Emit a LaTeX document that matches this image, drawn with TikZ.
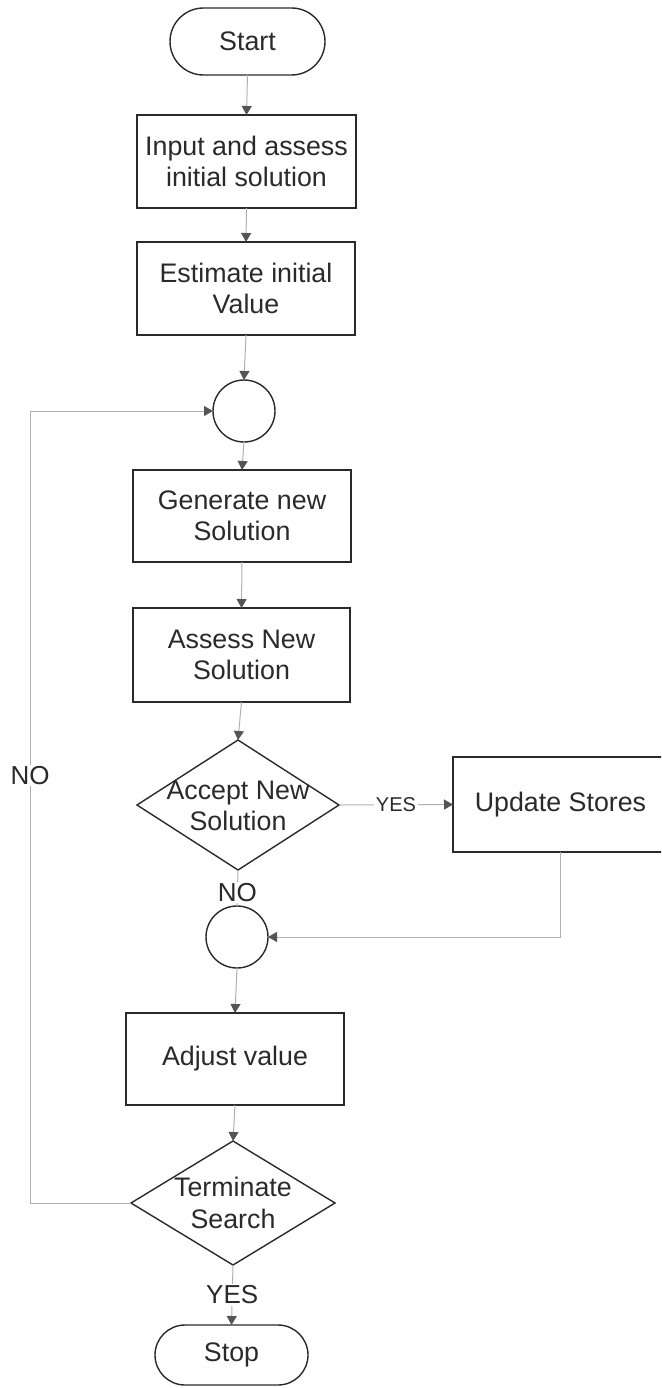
\documentclass[tikz,border=0pt]{standalone}
\usepackage{fontspec}
\setmainfont{Liberation Sans}
\usetikzlibrary{arrows.meta,shapes.geometric,shapes.misc}
\definecolor{ink}{HTML}{2A2A2A}
\definecolor{wire}{HTML}{B0B0B0}
\definecolor{tipc}{HTML}{555555}
\tikzset{
  base/.style={draw=ink, line width=1.4pt, text=ink, inner sep=0pt, outer sep=0pt,
    align=center, font=\fontsize{26.8}{31.5}\selectfont},
  terminal/.style={base, rounded rectangle},
  process/.style={base, rectangle},
  junction/.style={base, circle, minimum size=62pt},
  decision/.style={base, diamond},
  caption/.style={text=ink, inner sep=0pt, align=center, font=\fontsize{26.8}{31.5}\selectfont},
  tag/.style={fill=white, text=ink, inner sep=1.5pt, font=\fontsize{26}{30}\selectfont},
  smalltag/.style={fill=white, text=ink, inner sep=1.5pt, font=\fontsize{20}{24}\selectfont},
  link/.style={draw=wire, line width=1pt},
  flow/.style={link, -{Triangle[width=10pt,length=9pt,color=tipc]}}
}
\begin{document}
\begin{tikzpicture}[x=1pt,y=-1pt]
  \useasboundingbox (0,0) rectangle (661,1388);
  \clip (0,0) rectangle (661,1388);

  % main column
  \node[terminal, minimum width=155pt, minimum height=67pt] (start) at (247.5,41.5) {Start};
  \node[process, minimum width=219pt, minimum height=93pt] (input) at (246.5,161.5) {Input and assess\\initial solution};
  \node[process, minimum width=218pt, minimum height=93pt] (est) at (246,288.5) {Estimate initial\\Value};
  \node[junction] (c1) at (244,411) {};
  \node[process, minimum width=218pt, minimum height=92pt] (gen) at (242,516) {Generate new\\Solution};
  \node[process, minimum width=217pt, minimum height=94pt] (assess) at (241.5,655) {Assess New\\Solution};
  \node[decision, minimum width=202pt, minimum height=130pt] (acc) at (238,805) {};
  \node[caption] (acctxt) at (238,806) {Accept New\\Solution};
  \node[process, minimum width=215pt, minimum height=95pt] (upd) at (560.5,804.5) {Update Stores};
  \node[junction] (c2) at (237,937) {};
  \node[process, minimum width=218pt, minimum height=92pt] (adj) at (235,1059) {Adjust value};
  \node[decision, minimum width=204pt, minimum height=124pt] (term) at (233,1203) {};
  \node[caption] (termtxt) at (233,1203) {Terminate\\Search};
  \node[terminal, minimum width=153pt, minimum height=60pt] (stop) at (231.5,1355) {Stop};

  % loop-back corners
  \coordinate (lb) at (30,1203);
  \coordinate (lt) at (30,411);

  % connectors
  \draw[flow] (start.south) -- (input.north);
  \draw[flow] (input.south) -- (est.north);
  \draw[flow] (est.south) -- (c1.north);
  \draw[flow] (c1.south) -- (gen.north);
  \draw[flow] (gen.south) -- (assess.north);
  \draw[flow] (assess.south) -- (acc.north);
  \draw[flow] (acc.east) -- node[smalltag] {YES} (upd.west);
  \draw[link] (acc.south) -- node[tag, pos=0.62] {NO} (c2.north);
  \draw[flow] (upd.south) |- (c2.east);
  \draw[flow] (c2.south) -- (adj.north);
  \draw[flow] (adj.south) -- (term.north);
  \draw[flow] (term.south) -- node[tag] {YES} (stop.north);
  \draw[flow] (term.west) -- (lb) -- node[tag, pos=0.54] {NO} (lt) -- (c1.west);
\end{tikzpicture}
\end{document}
